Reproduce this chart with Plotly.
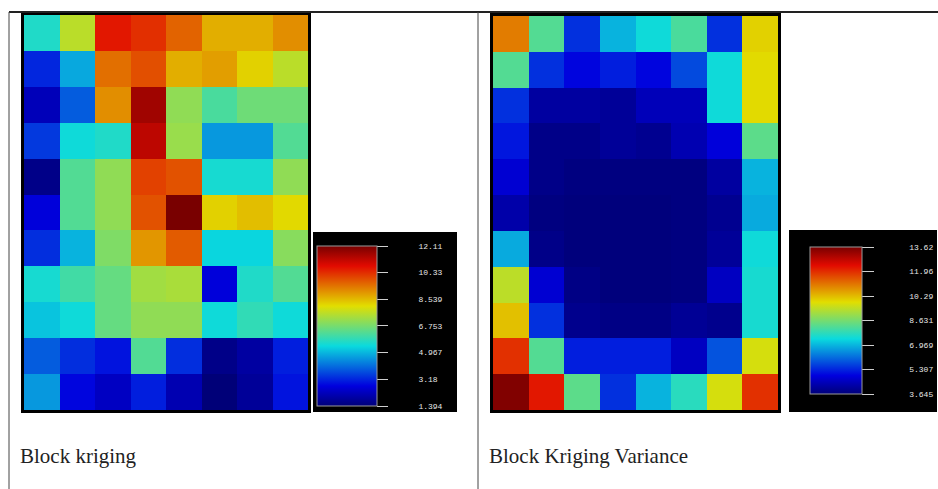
import plotly.graph_objects as go

# ---------------- data ----------------
kriging_values = [
    [5.68, 7.60, 10.60, 10.30, 9.65, 8.70, 8.70, 9.10],
    [3.20, 4.80, 9.50, 9.90, 8.70, 8.90, 8.25, 7.60],
    [2.25, 3.86, 9.10, 11.60, 7.07, 6.20, 6.65, 6.65],
    [3.43, 5.47, 5.68, 11.25, 7.18, 4.60, 4.60, 6.30],
    [1.60, 6.30, 7.07, 10.07, 9.86, 5.57, 5.57, 7.07],
    [2.68, 6.30, 7.07, 9.86, 12.10, 8.25, 8.50, 8.15],
    [3.30, 4.93, 6.86, 9.00, 9.75, 5.36, 5.36, 6.97],
    [5.57, 6.10, 6.54, 7.29, 7.39, 2.68, 5.68, 6.30],
    [5.14, 5.47, 6.54, 7.07, 7.07, 5.47, 5.90, 5.47],
    [3.86, 3.30, 2.97, 6.30, 3.30, 1.60, 1.93, 3.10],
    [4.60, 2.79, 2.36, 3.10, 2.14, 1.39, 1.82, 2.97],
]
kriging_ticks = [1.394, 3.18, 4.967, 6.753, 8.539, 10.33, 12.11]
kriging_ticktext = ["1.394", "3.18", "4.967", "6.753", "8.539", "10.33", "12.11"]

variance_values = [
    [11.03, 8.23, 5.44, 6.94, 7.44, 8.13, 5.44, 10.03],
    [8.23, 5.44, 4.94, 5.24, 4.94, 5.74, 7.44, 9.93],
    [5.44, 4.14, 4.14, 4.04, 4.44, 4.44, 7.44, 9.93],
    [5.14, 3.84, 3.84, 4.04, 3.94, 4.34, 4.84, 8.33],
    [4.74, 3.84, 3.74, 3.74, 3.74, 3.74, 4.14, 6.94],
    [4.24, 3.74, 3.70, 3.70, 3.70, 3.74, 3.94, 6.84],
    [6.84, 3.84, 3.70, 3.70, 3.70, 3.74, 4.04, 7.44],
    [9.43, 4.74, 3.80, 3.70, 3.70, 3.74, 4.54, 7.54],
    [10.23, 5.44, 3.90, 3.80, 3.80, 4.00, 3.90, 7.54],
    [11.93, 8.23, 5.24, 5.24, 5.24, 4.54, 5.84, 9.73],
    [13.52, 12.22, 8.33, 5.44, 6.94, 7.74, 9.73, 11.93],
]
variance_ticks = [3.645, 5.307, 6.969, 8.631, 10.29, 11.96, 13.62]
variance_ticktext = ["3.645", "5.307", "6.969", "8.631", "10.29", "11.96", "13.62"]

captions = ["Block kriging", "Block Kriging Variance"]

# ---------------- layout helpers ----------------
W, H = 938, 489


def px(x):
    return x / W


def py(y):
    return 1 - y / H


jet = [
    [0.0, "rgb(0,0,120)"],
    [0.125, "rgb(0,0,222)"],
    [0.375, "rgb(10,218,222)"],
    [0.625, "rgb(226,222,0)"],
    [0.875, "rgb(226,10,0)"],
    [1.0, "rgb(120,0,0)"],
]

fig = go.Figure()


def add_map(values, ticks, ticktext, xaxis, yaxis, cb_x, cb_top, cb_len, cb_thick, ticklen, npad):
    pad = "\u00a0" * npad
    fig.add_trace(go.Heatmap(
        z=values,
        x=list(range(1, 9)),
        y=list(range(1, 12)),
        colorscale=jet,
        zmin=ticks[0], zmax=ticks[-1],
        xaxis=xaxis, yaxis=yaxis,
        hoverinfo="z",
        colorbar=dict(
            x=px(cb_x), xanchor="left", xpad=0,
            y=py(cb_top), yanchor="top", ypad=0,
            len=cb_len, lenmode="pixels",
            thickness=cb_thick, thicknessmode="pixels",
            tickmode="array", tickvals=ticks,
            ticktext=[pad + t for t in ticktext],
            ticks="outside", ticklen=ticklen, tickwidth=1,
            tickcolor="#cfcfcf", ticklabeloverflow="allow",
            tickfont=dict(family="Liberation Mono", size=8, color="#e6e6e6"),
            outlinewidth=1, outlinecolor="#9a9a9a",
            bgcolor="rgba(0,0,0,0)", borderwidth=0,
        ),
    ))


add_map(kriging_values, kriging_ticks, kriging_ticktext, "x", "y",
        317, 246, 160, 60, 11, 6)
add_map(variance_values, variance_ticks, variance_ticktext, "x2", "y2",
        810, 247, 147, 52, 12, 7)

axis_common = dict(showticklabels=False, ticks="", showgrid=False, zeroline=False,
                   showline=True, mirror=True, linecolor="black", linewidth=3)

fig.update_layout(
    width=W, height=H,
    margin=dict(l=0, r=0, t=0, b=0, autoexpand=False),
    paper_bgcolor="white", plot_bgcolor="white",
    xaxis=dict(domain=[px(24), px(308)], range=[0.5, 8.5], **axis_common),
    yaxis=dict(domain=[py(410), py(15)], range=[11.5, 0.5], **axis_common),
    xaxis2=dict(domain=[px(493), px(778)], range=[0.5, 8.5], anchor="y2", **axis_common),
    yaxis2=dict(domain=[py(410), py(16)], range=[11.5, 0.5], anchor="x2", **axis_common),
    showlegend=False,
)

shapes = [
    # table lines
    dict(type="line", xref="paper", yref="paper", x0=px(9), x1=1, y0=py(12), y1=py(12),
         line=dict(color="#222222", width=2)),
    dict(type="line", xref="paper", yref="paper", x0=px(9), x1=px(9), y0=py(12), y1=0,
         line=dict(color="#444444", width=1)),
    dict(type="line", xref="paper", yref="paper", x0=px(478), x1=px(478), y0=py(12), y1=0,
         line=dict(color="#444444", width=1)),
    # black colorbar boxes
    dict(type="rect", xref="paper", yref="paper", x0=px(313), x1=px(457), y0=py(412), y1=py(232),
         fillcolor="black", line=dict(width=0), layer="below"),
    dict(type="rect", xref="paper", yref="paper", x0=px(789), x1=px(937), y0=py(412), y1=py(230),
         fillcolor="black", line=dict(width=0), layer="below"),
]
fig.update_layout(shapes=shapes)

for cap, x in zip(captions, [18, 487]):
    fig.add_annotation(text=cap, x=px(x), y=py(456), xref="paper", yref="paper",
                       xanchor="left", yanchor="middle", showarrow=False,
                       font=dict(family="Liberation Serif", size=21, color="#222222"))

fig.write_html("out.html")
